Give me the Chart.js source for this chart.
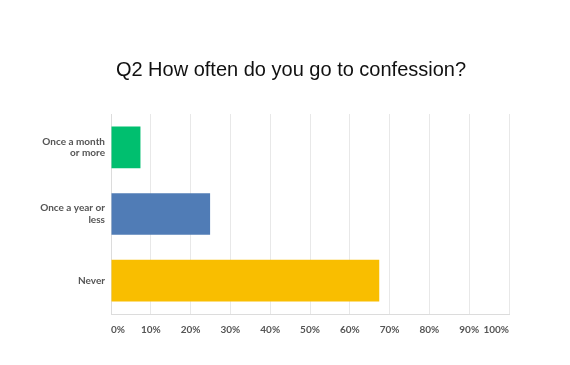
<!DOCTYPE html>
<html>
<head>
<meta charset="utf-8">
<script src="https://cdn.jsdelivr.net/npm/chart.js@4"></script>
<style>
html,body{margin:0;padding:0;background:#fff;}
#wrap{width:570px;height:365px;position:relative;}
</style>
</head>
<body>
<div id="wrap"><canvas id="c" width="570" height="365"></canvas></div>
<script>
const title = "Q2 How often do you go to confession?";
const categories = [["Once a month", "or more"], ["Once a year or", "less"], "Never"];
const values = [7.4, 24.9, 67.4];
const barColors = ["#00BF6F", "#507CB6", "#F9BE00"];
const xTicks = [0, 10, 20, 30, 40, 50, 60, 70, 80, 90, 100];

const titlePlugin = {
  id: 'customTitle',
  afterDraw(chart) {
    const ctx = chart.ctx;
    ctx.save();
    ctx.font = '20px "Liberation Sans", Arial, sans-serif';
    ctx.fillStyle = '#111';
    ctx.textAlign = 'center';
    ctx.textBaseline = 'alphabetic';
    ctx.fillText(title, 291, 76);
    ctx.restore();
  }
};

new Chart(document.getElementById('c'), {
  type: 'bar',
  data: {
    labels: categories,
    datasets: [{
      data: values,
      backgroundColor: barColors,
      borderWidth: 0,
      barPercentage: 0.625,
      categoryPercentage: 1.0
    }]
  },
  options: {
    indexAxis: 'y',
    responsive: false,
    animation: false,
    devicePixelRatio: 1,
    layout: { padding: { left: 0, right: 61, top: 114, bottom: 0 } },
    plugins: { legend: { display: false }, tooltip: { enabled: false }, title: { display: false } },
    scales: {
      x: {
        min: 0, max: 100,
        afterBuildTicks(scale) { scale.ticks = xTicks.map(v => ({ value: v })); },
        afterFit(scale) { scale.height = 51; },
        grid: { color: '#e8e8e8', drawTicks: false },
        border: { color: '#dcdcdc' },
        ticks: {
          align: 'inner',
          padding: 10,
          color: '#555',
          font: { family: 'Lato, sans-serif', weight: 'bold', size: 10 },
          callback: v => v + '%'
        }
      },
      y: {
        afterFit(scale) { scale.width = 111; },
        grid: { display: false, drawTicks: false },
        border: { color: '#dcdcdc' },
        ticks: {
          padding: 6,
          color: '#555',
          font: { family: 'Lato, sans-serif', weight: 'bold', size: 10, lineHeight: 1.17 }
        }
      }
    }
  },
  plugins: [titlePlugin]
});
</script>
</body>
</html>
